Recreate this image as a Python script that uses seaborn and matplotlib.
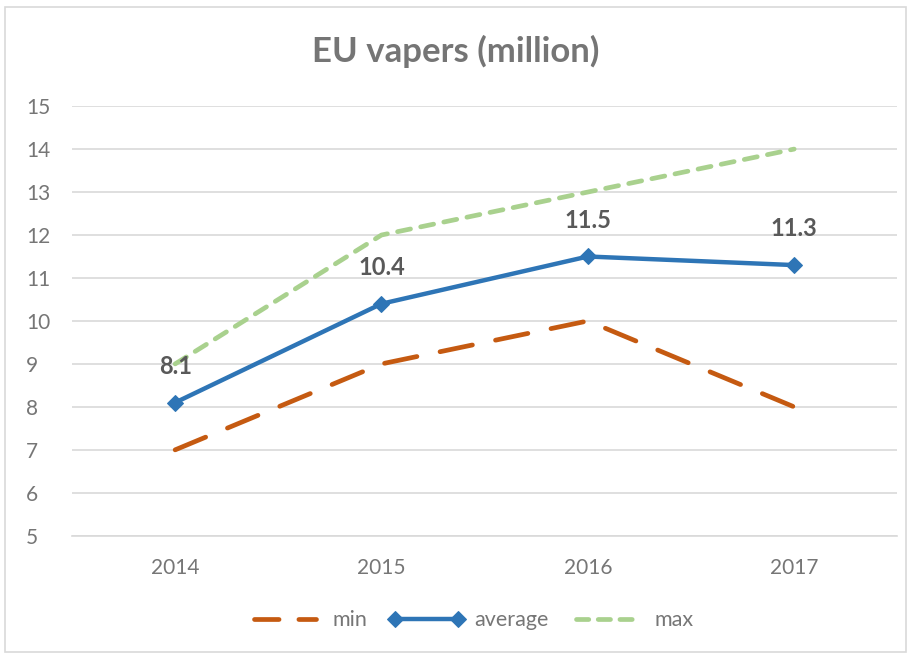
import matplotlib
matplotlib.use("Agg")
import matplotlib.pyplot as plt
import seaborn as sns
import pandas as pd
from matplotlib.patches import Rectangle

years = ["2014", "2015", "2016", "2017"]
min_vals = [7, 9, 10, 8]
avg_vals = [8.1, 10.4, 11.5, 11.3]
max_vals = [9, 12, 13, 14]
yticks = [5, 6, 7, 8, 9, 10, 11, 12, 13, 14, 15]

sns.set_theme(style="white")
plt.rcParams['font.family'] = ['Lato', 'DejaVu Sans']

fig = plt.figure(figsize=(9.11, 6.55), dpi=100)
ax = fig.add_axes([0.079, 0.182, 0.906, 0.656])

idx = list(range(len(years)))
df = pd.DataFrame({"x": idx, "min": min_vals, "average": avg_vals, "max": max_vals})

c_min = "#C55A11"
c_avg = "#2E75B6"
c_max = "#A9D18E"
c_tick = "#767676"

sns.lineplot(data=df, x="x", y="min", ax=ax, color=c_min, linewidth=3.4, label="min")
sns.lineplot(data=df, x="x", y="average", ax=ax, color=c_avg, linewidth=3.2,
             marker="D", markersize=8, markeredgecolor=c_avg, label="average")
sns.lineplot(data=df, x="x", y="max", ax=ax, color=c_max, linewidth=3.4, label="max")
lines = ax.get_lines()
lines[0].set_dashes([7, 5])
lines[0].set_dash_capstyle("round")
lines[2].set_dashes([2.8, 2.2])
lines[2].set_dash_capstyle("round")

for i, v in zip(idx, avg_vals):
    ax.annotate(f"{v}", (i, v), xytext=(0, 26), textcoords="offset points",
                ha="center", va="center", fontsize=17, fontweight="bold", color="#595959")

ax.set_xlim(-0.5, len(years) - 0.5)
ax.set_ylim(5, 15)
ax.set_yticks(yticks)
ax.set_xticks(idx)
ax.set_xticklabels(years)
ax.tick_params(axis="both", labelsize=15, colors=c_tick, length=0)
ax.tick_params(axis="x", pad=16)
ax.tick_params(axis="y", pad=33)
for lab in ax.get_yticklabels():
    lab.set_horizontalalignment("left")
ax.grid(axis="y", color="#D9D9D9", linewidth=1.2)
ax.set_axisbelow(True)
for s in ["top", "right", "left"]:
    ax.spines[s].set_visible(False)
ax.spines["bottom"].set_color("#D9D9D9")
ax.spines["bottom"].set_linewidth(1.2)
ax.set_xlabel("")
ax.set_ylabel("")

fig.text(0.5, 0.922, "EU vapers (million)", ha="center", va="center",
         fontsize=25, fontweight="bold", color="#757575")

leg = ax.legend(loc="center", bbox_to_anchor=(0.483, -0.197), ncol=3, frameon=False,
                fontsize=15.5, handlelength=3.5, columnspacing=1.0, handletextpad=0.45,
                numpoints=2)
for t in leg.get_texts():
    t.set_color(c_tick)
leg_lines = leg.get_lines()
leg_lines[0].set_dashes([5.2, 4.2])
leg_lines[2].set_dashes([2.6, 2.0])

fig.patches.append(Rectangle((0.005, 0.005), 0.99, 0.985, transform=fig.transFigure,
                             fill=False, edgecolor="#D9D9D9", linewidth=1.2))

fig.savefig("out.png", dpi=100)
